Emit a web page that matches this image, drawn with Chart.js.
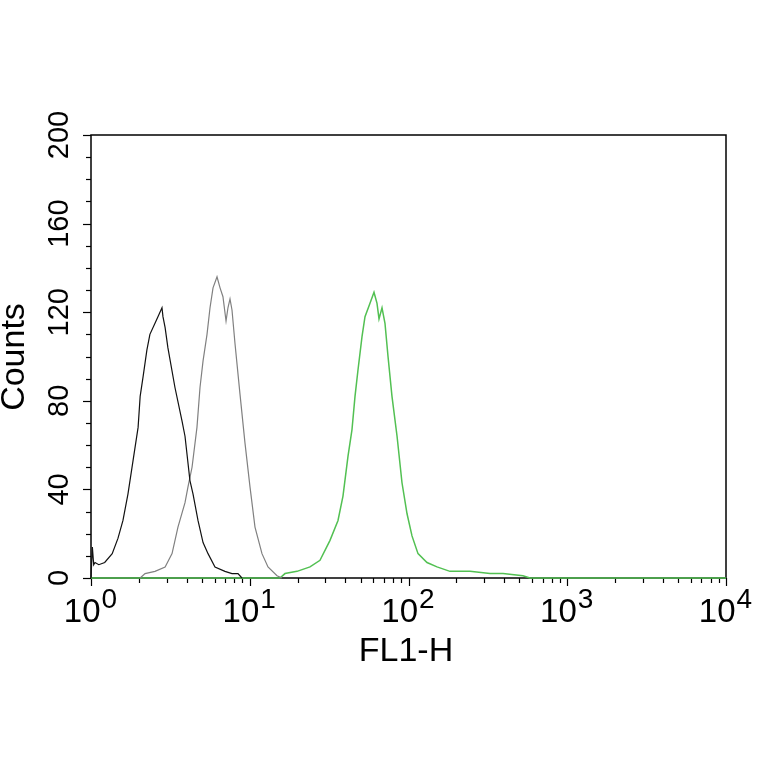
<!DOCTYPE html>
<html>
<head>
<meta charset="utf-8">
<script src="https://cdn.jsdelivr.net/npm/chart.js@4.4.1/dist/chart.umd.min.js"></script>
<style>
html,body{margin:0;padding:0;background:#fff;}
#wrap{width:764px;height:764px;}
</style>
</head>
<body>
<div id="wrap"><canvas id="c" width="764" height="764"></canvas></div>
<script>
// ---- data (FL1-H channel value, counts) ----
const blackX = [1.00,1.02,1.04,1.06,1.12,1.22,1.36,1.48,1.59,1.71,1.84,1.98,2.04,2.13,2.25,2.35,2.53,2.68,2.80,2.84,2.93,3.05,3.38,3.74,3.91,4.20,4.39,4.72,5.08,5.46,6.04,6.98,7.73,8.43,8.93];
const blackY = [0,14,6,7,6,7,11,18,26,38,53,68,82,91,103,110,115,119,122,118,113,104,86,71,64,44,38,26,16,11,5,3,2,2,0];

const greyX = [2.04,2.19,2.53,2.93,3.24,3.53,3.91,4.08,4.33,4.65,4.86,5.08,5.38,5.62,5.87,6.22,6.50,6.78,7.09,7.29,7.51,7.73,8.07,8.68,9.33,10.04,10.79,11.94,13.03,14.85,15.97];
const greyY = [0,2,3,5,11,23,34,41,50,68,86,98,110,122,131,136,131,127,116,122,126,121,106,83,61,41,23,11,5,1,0];

const greenX = [1,15.5,16.67,19.85,23.96,27.70,32.03,35.97,38.66,41.59,44.06,46.03,48.08,50.95,53.21,57.21,60.63,63.33,65.2,68.1,71.1,74.3,78.7,84.7,91.0,97.9,105.2,114.8,130.8,151.2,182.5,243.9,326,394,526,582,10000];
const greenY = [0,0,2,3,5,8,17,26,37,55,67,82,94,109,118,124,129,124,117,122,115,100,82,64,43,29,19,11,7,5,3,3,2,2,1,0,0];

// ---- axes ----
const yTickLabels = [0,40,80,120,160,200];
const yMinorStep = 10;
const xDecades = [0,1,2,3,4];
const xTitle = 'FL1-H';
const yTitle = 'Counts';

function pts(xs, ys){ return xs.map((x,i)=>({x:x, y:ys[i]})); }

const FONT = '"Liberation Sans", Arial, Helvetica, sans-serif';

const axesPlugin = {
  id:'axesPlugin',
  beforeDatasetsDraw(chart){
    const ctx = chart.ctx, a = chart.chartArea;
    const xs = chart.scales.x, ys = chart.scales.y;
    ctx.save();
    ctx.strokeStyle = '#000';
    ctx.lineWidth = 1.5;
    ctx.strokeRect(a.left, a.top, a.right-a.left, a.bottom-a.top);
    ctx.lineWidth = 1.2;
    // y ticks
    for(let v=0; v<=200; v+=yMinorStep){
      const py = Math.round(ys.getPixelForValue(v))+0.5;
      const len = yTickLabels.includes(v) ? 8 : 5;
      ctx.beginPath(); ctx.moveTo(a.left, py); ctx.lineTo(a.left-len, py); ctx.stroke();
    }
    // x ticks
    for(let d=0; d<4; d++){
      for(let m=1; m<=9; m++){
        const v = m*Math.pow(10,d);
        const px = Math.round(xs.getPixelForValue(v))+0.5;
        const len = m===1 ? 8 : 5;
        ctx.beginPath(); ctx.moveTo(px, a.bottom); ctx.lineTo(px, a.bottom+len); ctx.stroke();
      }
    }
    const pxe = Math.round(xs.getPixelForValue(10000))+0.5;
    ctx.beginPath(); ctx.moveTo(pxe, a.bottom); ctx.lineTo(pxe, a.bottom+8); ctx.stroke();

    ctx.fillStyle = '#000';
    // y labels (rotated)
    ctx.font = '29px ' + FONT;
    ctx.textAlign = 'center';
    ctx.textBaseline = 'alphabetic';
    yTickLabels.forEach(v=>{
      const py = ys.getPixelForValue(v);
      ctx.save(); ctx.translate(68, py); ctx.rotate(-Math.PI/2);
      ctx.fillText(String(v), 0, 0); ctx.restore();
    });
    // x labels 10^d
    xDecades.forEach(d=>{
      const px = xs.getPixelForValue(Math.pow(10,d));
      ctx.font = '33px ' + FONT;
      const wb = ctx.measureText('10').width;
      ctx.font = '28px ' + FONT;
      const we = ctx.measureText(String(d)).width;
      const start = px - (wb+we)/2 - 1;
      ctx.textAlign = 'left';
      ctx.font = '33px ' + FONT;
      ctx.fillText('10', start, 622);
      ctx.font = '28px ' + FONT;
      ctx.fillText(String(d), start+wb+1, 608);
    });
    // titles
    ctx.font = '34px ' + FONT;
    ctx.textAlign = 'center';
    ctx.fillText(xTitle, 406, 661);
    ctx.save(); ctx.translate(24, 357); ctx.rotate(-Math.PI/2);
    ctx.fillText(yTitle, 0, 0); ctx.restore();
    ctx.restore();
  }
};

new Chart(document.getElementById('c'), {
  type:'scatter',
  data:{
    datasets:[
      {label:'isotype', data:pts(blackX,blackY), borderColor:'#111', borderWidth:1.2},
      {label:'unstained', data:pts(greyX,greyY), borderColor:'#808080', borderWidth:1.2},
      {label:'antibody', data:pts(greenX,greenY), borderColor:'#52c052', borderWidth:1.5}
    ]
  },
  options:{
    responsive:false,
    animation:false,
    devicePixelRatio:1,
    showLine:true,
    elements:{point:{radius:0, hoverRadius:0}, line:{tension:0}},
    datasets:{scatter:{clip:4}},
    layout:{padding:{left:0, top:135, right:38, bottom:186}},
    plugins:{legend:{display:false}, tooltip:{enabled:false}},
    scales:{
      x:{type:'logarithmic', min:1, max:10000,
         ticks:{display:false}, grid:{display:false}, border:{display:false},
         afterFit(s){ s.height = 0; }},
      y:{type:'linear', min:0, max:200,
         ticks:{display:false}, grid:{display:false}, border:{display:false},
         afterFit(s){ s.width = 91; }}
    }
  },
  plugins:[axesPlugin]
});
</script>
</body>
</html>
